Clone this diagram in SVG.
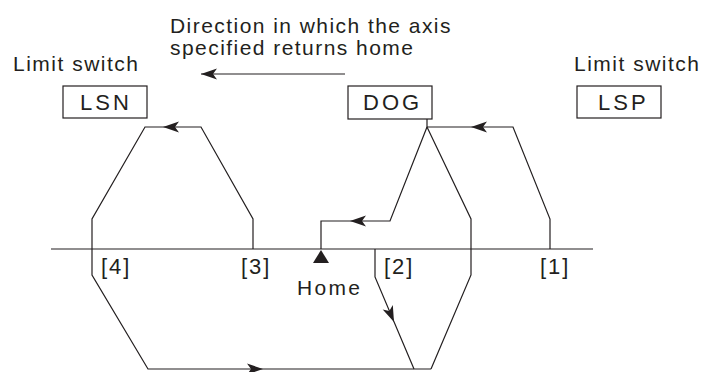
<svg xmlns="http://www.w3.org/2000/svg" xmlns:xlink="http://www.w3.org/1999/xlink" width="702" height="372" viewBox="0 0 702 372">
<style>
.t{font-family:"Liberation Sans",Arial,sans-serif;font-size:21px;fill:#231f20;letter-spacing:1.45px}
.b{font-family:"Liberation Sans",Arial,sans-serif;font-size:22px;fill:#231f20;letter-spacing:3px}
.br{font-family:"Liberation Sans",Arial,sans-serif;font-size:22px;fill:#231f20;letter-spacing:2px}
.ln{fill:none;stroke:#231f20;stroke-width:1.2}
.box{fill:#fff;stroke:#231f20;stroke-width:1.2}
.ah{fill:#231f20;stroke:none}
</style>
<defs>
<path id="ah" d="M0,0 L-16,-5.5 L-12,0 L-16,5.5 Z"/>
</defs>
<rect width="702" height="372" fill="#fff"/>
<g id="title">
<text class="t" x="170" y="33">Direction in which the axis</text>
<text class="t" x="170" y="55">specified returns home</text>
</g>
<g id="axis">
<line class="ln" x1="51" y1="249" x2="593" y2="249"/>
</g>
<g id="LSN">
<text class="t" x="13" y="71" style="letter-spacing:1.5px">Limit switch</text>
<rect class="box" x="63" y="86" width="84" height="32"/>
<text class="b" x="80" y="110">LSN</text>
</g>
<g id="DOG">
<rect class="box" x="348" y="86" width="84" height="33"/>
<text class="b" x="363" y="110">DOG</text>
</g>
<g id="LSP">
<text class="t" x="574" y="71" style="letter-spacing:1.5px">Limit switch</text>
<rect class="box" x="577" y="86" width="84" height="32"/>
<text class="b" x="598" y="110">LSP</text>
</g>
<g id="home">
<polygon class="ah" points="321,250 313,263 329,263"/>
<text class="t" x="297" y="295" style="letter-spacing:2.3px">Home</text>
</g>
<g id="labels">
<text class="br" x="101" y="274">[4]</text>
<text class="br" x="241" y="274">[3]</text>
<text class="br" x="384" y="274">[2]</text>
<text class="br" x="540" y="274">[1]</text>
</g>
<g id="connectors">
<line class="ln" x1="201" y1="74" x2="345" y2="74"/>
<polyline class="ln" points="253,249 253,219 201,127 145,127 92,219 92,275 148,369 431,369"/>
<polyline class="ln" points="427,119 427,127 513,127 550,219 550,249"/>
<polyline class="ln" points="427,127 390,221 321,221 321,249"/>
<polyline class="ln" points="427,127 471,219 471,275 431,369"/>
<polyline class="ln" points="375,249 375,277 414,369"/>
<use href="#ah" class="ah" transform="translate(201,74) rotate(180)"/>
<use href="#ah" class="ah" transform="translate(163,127) rotate(180)"/>
<use href="#ah" class="ah" transform="translate(471,127) rotate(180)"/>
<use href="#ah" class="ah" transform="translate(350,221) rotate(180)"/>
<use href="#ah" class="ah" transform="translate(263,369)"/>
<use href="#ah" class="ah" transform="translate(394,322) rotate(67)"/>
</g>
</svg>
